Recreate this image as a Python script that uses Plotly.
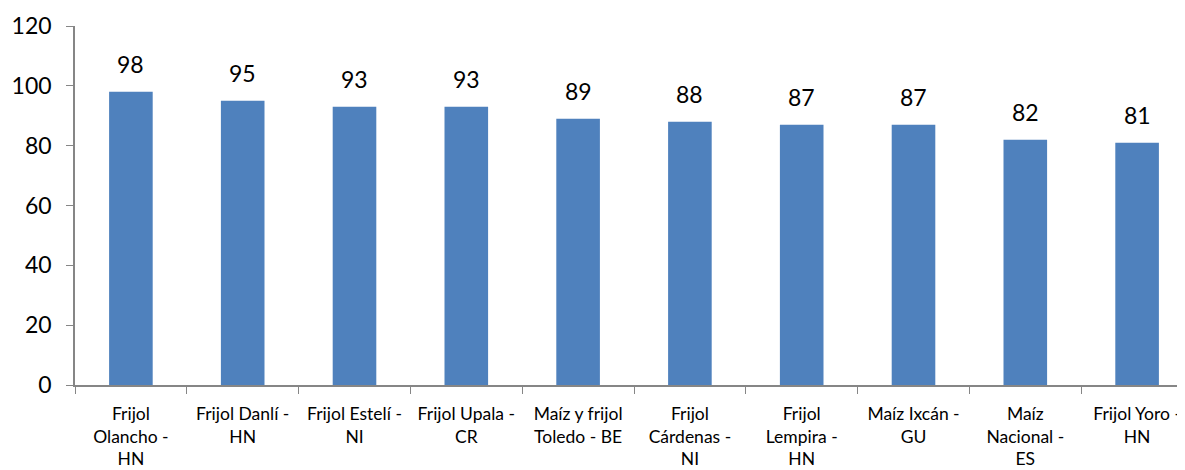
import plotly.graph_objects as go

categories = [
    "Frijol<br>Olancho -<br>HN",
    "Frijol Danlí -<br>HN",
    "Frijol Estelí -<br>NI",
    "Frijol Upala -<br>CR",
    "Maíz y frijol<br>Toledo - BE",
    "Frijol<br>Cárdenas -<br>NI",
    "Frijol<br>Lempira -<br>HN",
    "Maíz Ixcán -<br>GU",
    "Maíz<br>Nacional -<br>ES",
    "Frijol Yoro -<br>HN",
]
values = [98, 95, 93, 93, 89, 88, 87, 87, 82, 81]
y_ticks = [0, 20, 40, 60, 80, 100, 120]

FONT = "Lato"
AXIS_COLOR = "#868686"

fig = go.Figure()
fig.add_trace(go.Bar(
    x=categories,
    y=values,
    marker=dict(color="#4F81BD", line=dict(width=0)),
    width=0.39,
))

for c, v in zip(categories, values):
    fig.add_annotation(
        x=c, y=v, text=str(v), showarrow=False,
        yanchor="bottom", yshift=12,
        font=dict(family=FONT, size=23, color="#000000"),
    )

fig.update_layout(
    width=1185, height=470,
    margin=dict(l=67, r=0, t=18, b=93),
    paper_bgcolor="white", plot_bgcolor="white",
    showlegend=False,
    font=dict(family=FONT, color="#000000"),
)
fig.update_xaxes(
    range=[-0.5, 9.5],
    automargin=False,
    showline=True, linecolor=AXIS_COLOR, linewidth=1.5,
    ticks="outside", tickson="boundaries", ticklen=7, tickcolor=AXIS_COLOR,
    tickfont=dict(family=FONT, size=17.5, color="#000000"),
    ticklabelstandoff=12,
    tickangle=0,
    showgrid=False,
)
fig.update_yaxes(
    range=[0, 120], tickvals=y_ticks,
    automargin=False,
    showline=True, linecolor=AXIS_COLOR, linewidth=1.5,
    ticks="outside", ticklen=7, tickcolor=AXIS_COLOR,
    tickfont=dict(family=FONT, size=23, color="#000000"),
    ticklabelstandoff=10,
    showgrid=False, zeroline=False,
)

fig.write_html("out.html")
